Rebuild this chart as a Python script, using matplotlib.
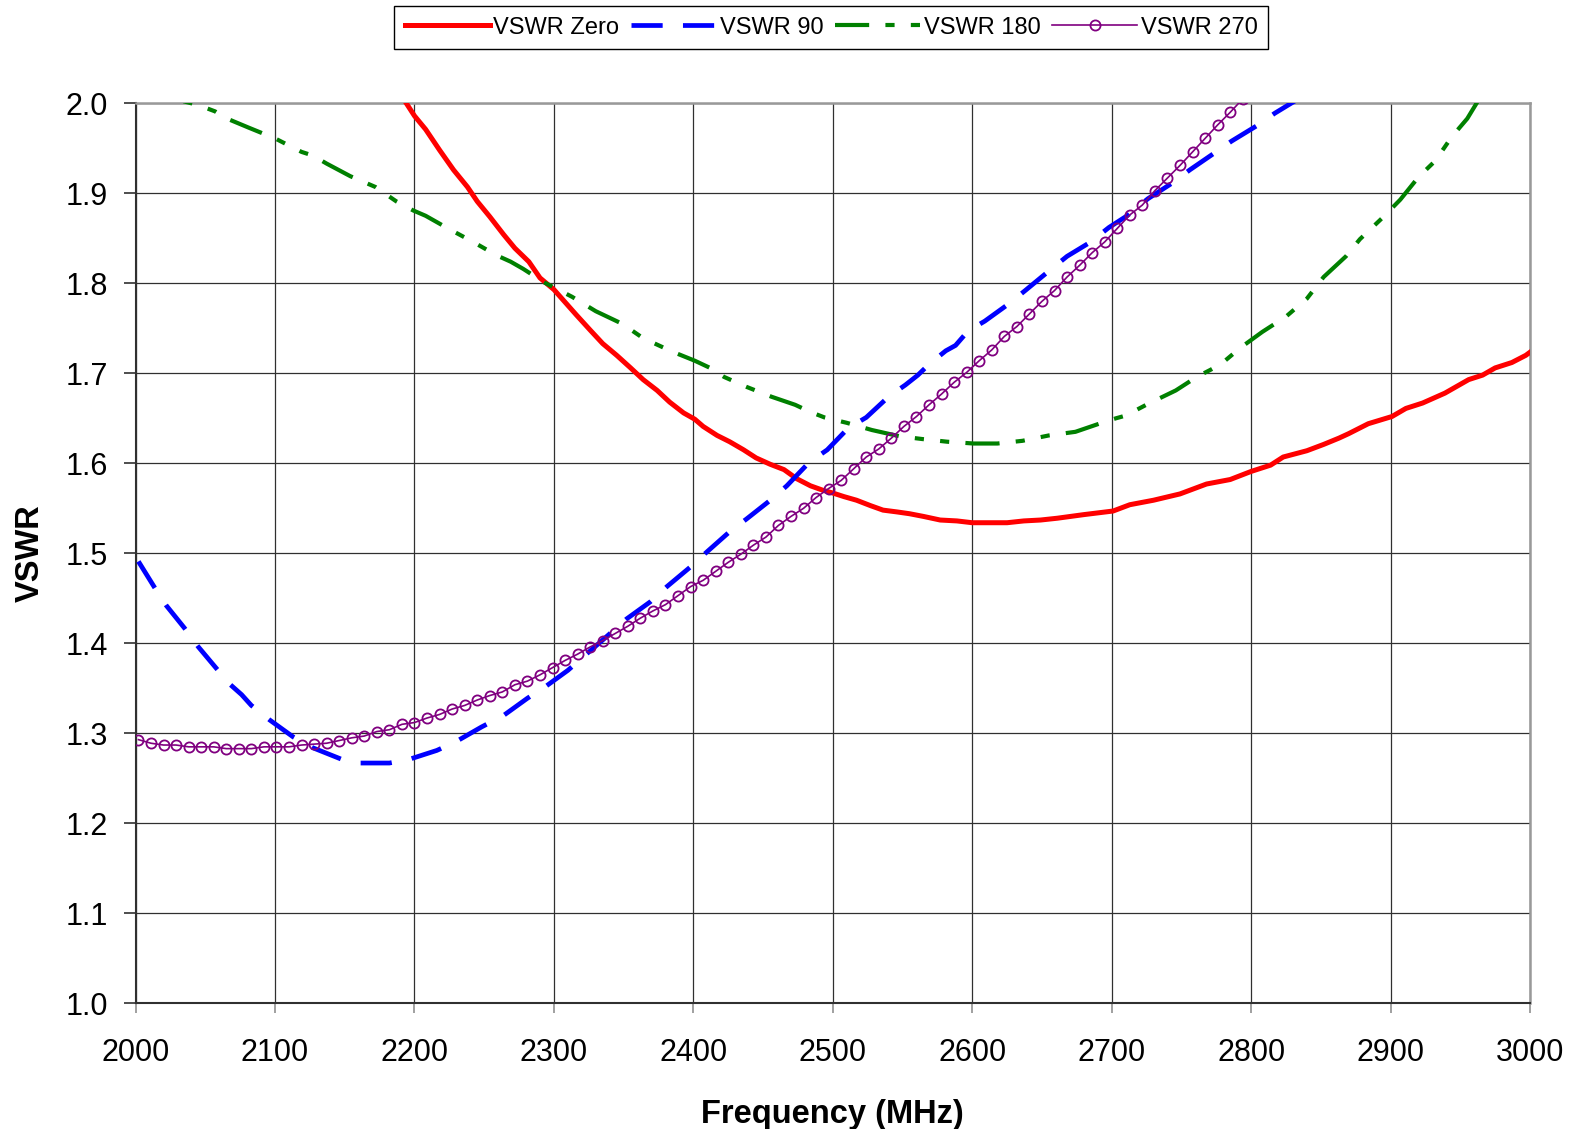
import numpy as np
import matplotlib
matplotlib.use("Agg")
import matplotlib.pyplot as plt

plt.rcParams["font.family"] = ["Liberation Sans", "DejaVu Sans"]

# ---- measured VSWR data (frequency in MHz) ----
freq_zero = [2190, 2200, 2208, 2218, 2228, 2238, 2245, 2254, 2264, 2272,
             2282, 2290, 2300, 2316, 2326, 2335, 2345, 2355, 2364, 2374,
             2383, 2393, 2401, 2407, 2417, 2426, 2436, 2445, 2455, 2465,
             2474, 2484, 2493, 2500, 2508, 2517, 2527, 2536, 2546, 2555,
             2565, 2577, 2589, 2600, 2613, 2625, 2637, 2649, 2661, 2680,
             2701, 2713, 2730, 2749, 2768, 2785, 2800, 2814, 2823, 2840,
             2852, 2863, 2870, 2884, 2901, 2911, 2923, 2939, 2956, 2966,
             2975, 2987, 2997, 3004]
vswr_zero = [2.010, 1.986, 1.971, 1.948, 1.926, 1.907, 1.891, 1.874, 1.854, 1.839,
             1.824, 1.806, 1.793, 1.765, 1.748, 1.733, 1.720, 1.706, 1.693, 1.681,
             1.668, 1.656, 1.649, 1.641, 1.631, 1.624, 1.615, 1.606, 1.599, 1.593,
             1.583, 1.575, 1.570, 1.567, 1.563, 1.559, 1.553, 1.548, 1.546, 1.544,
             1.541, 1.537, 1.536, 1.534, 1.534, 1.534, 1.536, 1.537, 1.539, 1.543,
             1.547, 1.554, 1.559, 1.566, 1.577, 1.582, 1.591, 1.598, 1.607, 1.614,
             1.621, 1.628, 1.633, 1.644, 1.652, 1.661, 1.667, 1.678, 1.693, 1.698,
             1.706, 1.712, 1.720, 1.728]

freq_90 = [2002, 2014, 2022, 2035, 2045, 2058, 2068, 2076, 2083, 2096,
           2113, 2127, 2148, 2161, 2182, 2196, 2216, 2230, 2248, 2264,
           2281, 2294, 2310, 2324, 2333, 2352, 2369, 2381, 2398, 2410,
           2426, 2438, 2456, 2467, 2483, 2496, 2511, 2524, 2540, 2552,
           2561, 2569, 2581, 2588, 2597, 2609, 2626, 2638, 2656, 2668,
           2685, 2698, 2711, 2726, 2743, 2756, 2772, 2786, 2804, 2817, 2835]
vswr_90 = [1.491, 1.461, 1.442, 1.417, 1.396, 1.372, 1.354, 1.343, 1.331, 1.315,
           1.296, 1.284, 1.271, 1.267, 1.267, 1.271, 1.281, 1.291, 1.307, 1.320,
           1.339, 1.352, 1.370, 1.389, 1.401, 1.427, 1.446, 1.463, 1.485, 1.502,
           1.524, 1.538, 1.560, 1.575, 1.601, 1.615, 1.639, 1.651, 1.674, 1.687,
           1.698, 1.710, 1.725, 1.731, 1.747, 1.758, 1.777, 1.792, 1.815, 1.830,
           1.846, 1.862, 1.875, 1.894, 1.911, 1.926, 1.943, 1.958, 1.975, 1.989, 2.006]

freq_180 = [2000, 2025, 2045, 2057, 2064, 2081, 2100, 2119, 2127, 2137,
            2154, 2172, 2187, 2199, 2208, 2224, 2242, 2259, 2269, 2278,
            2293, 2313, 2330, 2349, 2364, 2385, 2401, 2412, 2422, 2438,
            2456, 2473, 2484, 2494, 2510, 2528, 2548, 2564, 2582, 2601,
            2618, 2636, 2655, 2674, 2691, 2703, 2710, 2726, 2746, 2761,
            2771, 2779, 2792, 2808, 2825, 2840, 2852, 2868, 2878, 2895,
            2907, 2920, 2932, 2944, 2955, 2964]
vswr_180 = [2.020, 2.006, 1.998, 1.991, 1.984, 1.973, 1.961, 1.946, 1.942, 1.933,
            1.919, 1.907, 1.891, 1.881, 1.875, 1.861, 1.846, 1.831, 1.824, 1.816,
            1.801, 1.785, 1.769, 1.755, 1.739, 1.724, 1.714, 1.706, 1.696, 1.685,
            1.674, 1.665, 1.657, 1.651, 1.645, 1.637, 1.630, 1.627, 1.624, 1.622,
            1.622, 1.625, 1.631, 1.635, 1.644, 1.650, 1.653, 1.666, 1.681, 1.696,
            1.704, 1.711, 1.728, 1.746, 1.763, 1.783, 1.807, 1.830, 1.849, 1.874,
            1.893, 1.918, 1.936, 1.963, 1.983, 2.006]

# sweep points of the 270 degree measurement, 9 MHz step
freq_270 = np.arange(2002, 2795, 9)
vswr_270 = [1.293, 1.289, 1.287, 1.287, 1.285, 1.285, 1.285, 1.283, 1.283, 1.283,
            1.285, 1.285, 1.285, 1.287, 1.288, 1.289, 1.292, 1.295, 1.297, 1.302,
            1.304, 1.310, 1.312, 1.317, 1.321, 1.327, 1.331, 1.337, 1.342, 1.346,
            1.354, 1.358, 1.365, 1.373, 1.381, 1.388, 1.396, 1.403, 1.411, 1.419,
            1.428, 1.436, 1.443, 1.453, 1.463, 1.470, 1.480, 1.490, 1.499, 1.509,
            1.518, 1.531, 1.541, 1.550, 1.562, 1.572, 1.581, 1.594, 1.607, 1.616,
            1.628, 1.641, 1.652, 1.665, 1.677, 1.690, 1.701, 1.714, 1.726, 1.741,
            1.752, 1.766, 1.780, 1.792, 1.807, 1.820, 1.834, 1.846, 1.861, 1.876,
            1.887, 1.903, 1.917, 1.931, 1.946, 1.961, 1.976, 1.990, 2.005]

x_ticks = [2000, 2100, 2200, 2300, 2400, 2500, 2600, 2700, 2800, 2900, 3000]
y_ticks = [1.0, 1.1, 1.2, 1.3, 1.4, 1.5, 1.6, 1.7, 1.8, 1.9, 2.0]

# ---- figure ----
fig = plt.figure(figsize=(15.77, 11.29), dpi=100)
ax = fig.add_axes([0.0860, 0.1113, 0.8842, 0.7972])

ax.plot(freq_zero, vswr_zero, color="#FF0000", lw=3.6, solid_joinstyle="round",
        label="VSWR Zero", zorder=3)
ax.plot(freq_90, vswr_90, color="#0000FF", lw=3.4, dashes=(6.6, 4.3),
        label="VSWR 90", zorder=3)
ax.plot(freq_180, vswr_180, color="#008000", lw=3.0,
        dashes=(8.2, 3.9, 2.2, 3.9, 2.2, 3.9), label="VSWR 180", zorder=3)
ax.plot(freq_270, vswr_270, color="#800080", lw=1.2, marker="o", markersize=7.3,
        markerfacecolor="none", markeredgecolor="#800080", markeredgewidth=1.3,
        label="VSWR 270", zorder=4)

ax.set_xlim(2000, 3000)
ax.set_ylim(1.0, 2.0)
ax.set_xticks(x_ticks)
ax.set_yticks(y_ticks)
ax.set_xticklabels([str(t) for t in x_ticks])
ax.set_yticklabels([f"{t:.1f}" for t in y_ticks])

ax.grid(True, color="#303030", lw=0.9)
ax.set_axisbelow(True)

for side in ("top", "right"):
    ax.spines[side].set_color("#999999")
    ax.spines[side].set_linewidth(1.8)
for side in ("left", "bottom"):
    ax.spines[side].set_color("#303030")
    ax.spines[side].set_linewidth(1.5)

ax.tick_params(axis="y", direction="out", length=9, width=1.2, color="#303030",
               labelsize=22, pad=11)
ax.tick_params(axis="x", direction="out", length=7, width=1.2, color="#909090",
               labelsize=22, pad=18)

ax.set_xlabel("Frequency (MHz)", fontsize=23.5, fontweight="bold", labelpad=22)
ax.set_ylabel("VSWR", fontsize=23.5, fontweight="bold", labelpad=14)

leg = fig.legend(loc="center", bbox_to_anchor=(0.527, 0.9755), ncol=4,
                 fontsize=17, frameon=True, fancybox=False, edgecolor="black",
                 framealpha=1, handlelength=3.6, handletextpad=0.15,
                 columnspacing=0.5, borderpad=0.45, numpoints=1)
leg.get_frame().set_linewidth(1.0)

fig.savefig("out.png", dpi=100)
